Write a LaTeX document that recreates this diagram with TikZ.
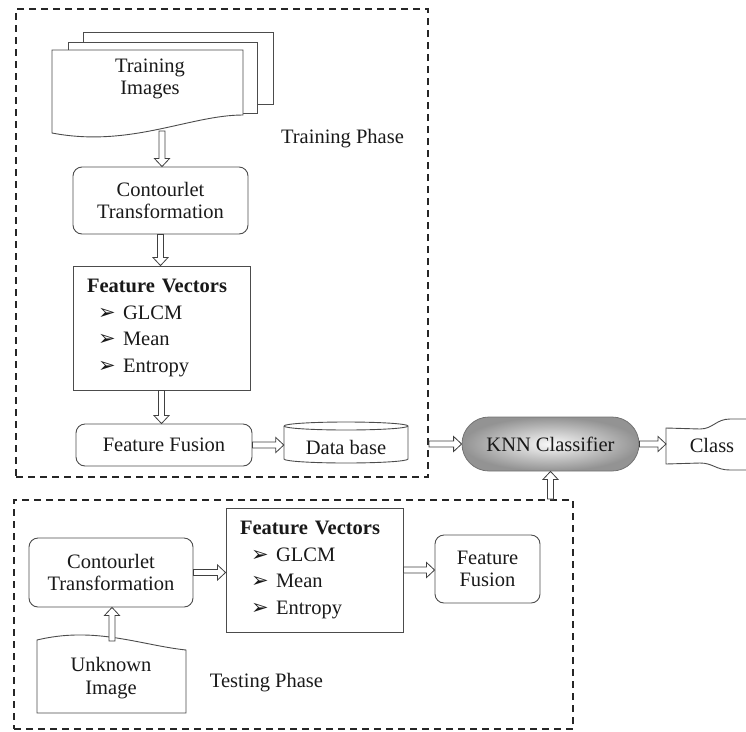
\documentclass[tikz,border=0pt]{standalone}
\usepackage{fontspec}
\setmainfont{Liberation Serif}
\newfontfamily\dejavu{DejaVu Sans}
\usetikzlibrary{calc,shapes.misc}
\newcommand{\fvitem}[1]{\hspace*{11pt}\makebox[25pt][l]{{\dejavu\fontsize{21}{21}\selectfont ➢}}#1}
\begin{document}
\begin{tikzpicture}[x=1pt,y=1pt,
  every node/.style={font=\fontsize{20.5}{22.5}\selectfont, text=black!90},
  box/.style={draw=black!70, line width=0.9pt, inner sep=0pt, align=center},
  rbox/.style={box, rounded corners=9pt},
  fvbox/.style={box, text width=149pt, inner xsep=14pt, inner ysep=0pt, minimum height=124pt, align=left, font=\fontsize{20.5}{26.5}\selectfont},
  phase/.style={draw=black!85, line width=2pt, dash pattern=on 7pt off 5pt, inner sep=0pt, anchor=north west},
  docline/.style={draw=black!70, line width=0.9pt, fill=white},
  plain/.style={align=center, inner sep=0pt},
  knn/.style={rounded rectangle, draw=black!55, line width=0.8pt, inner color=gray!5, outer color=gray!85, minimum width=177pt, minimum height=54pt, inner sep=0pt},
  harrow/.style={draw=black!75, line width=0.8pt, fill=white, line join=miter,
    to path={let \p1=(\tikztostart), \p2=(\tikztotarget),
      \n1={atan2(\y2-\y1,\x2-\x1)}, \n2={veclen(\x2-\x1,\y2-\y1)-8pt} in
      ($(\p1)+(\n1+90:3pt)$) -- ($(\p1)+(\n1:\n2)+(\n1+90:3pt)$) -- ($(\p1)+(\n1:\n2)+(\n1+90:7.5pt)$) -- (\p2) -- ($(\p1)+(\n1:\n2)+(\n1-90:7.5pt)$) -- ($(\p1)+(\n1:\n2)+(\n1-90:3pt)$) -- ($(\p1)+(\n1-90:3pt)$) -- cycle}}
]
\useasboundingbox (0,0) rectangle (746,-731);

% phase frames
\node[phase, minimum width=412pt, minimum height=468pt] (tphase) at (15,-8) {};
\node[phase, minimum width=559pt, minimum height=229pt] (bphase) at (13,-499) {};

% training images (stacked documents)
\draw[docline] (83,-32) rectangle (273,-104);
\draw[docline] (68,-42) rectangle (257,-113);
\draw[docline] (52,-50) -- (243,-50) -- (243,-115) .. controls (190,-115) and (130,-148) .. (52,-133) -- cycle;
\node[plain] (trainimg) at (150,-79) {Training\\Images};
\coordinate (trainbot) at (162,-131);

\node[plain] (trphase) at (342.5,-139) {Training Phase};

\node[rbox, minimum width=175pt, minimum height=67pt] (ct1) at (160.5,-200.5) {Contourlet\\Transformation};
\node[fvbox] (fv1) at (161.5,-328) {\textbf{Feature Vectors}\\\fvitem{GLCM}\\\fvitem{Mean}\\\fvitem{Entropy}};
\node[rbox, minimum width=176pt, minimum height=42pt] (ff1) at (164,-445) {Feature Fusion};

% database cylinder
\draw[draw=black!70, line width=0.9pt] (284,-426) -- (284,-459) arc[start angle=180, end angle=360, x radius=62pt, y radius=4pt] -- (408,-426) arc[start angle=0, end angle=180, x radius=62pt, y radius=4pt];
\draw[draw=black!70, line width=0.9pt] (284,-426) arc[start angle=180, end angle=360, x radius=62pt, y radius=4pt];
\node[plain, minimum width=124pt, minimum height=41pt] (db) at (346,-442.5) {};
\node[plain] (dbtext) at (346,-447) {Data base};

% KNN
\node[knn] (knn) at (550.5,-444) {KNN Classifier};

% class
\draw[draw=black!70, line width=0.9pt] (746,-419) -- (730,-419) .. controls (716,-419) and (713,-429) .. (700,-429) -- (666,-428) -- (666,-464) -- (700,-463) .. controls (713,-463) and (716,-470) .. (730,-470) -- (746,-470);
\node[plain] (class) at (712,-445) {Class};
\coordinate (classin) at (666,-444);

% testing phase
\node[rbox, minimum width=164pt, minimum height=69pt] (ct2) at (111,-572.5) {Contourlet\\Transformation};
\node[fvbox] (fv2) at (314.5,-570) {\textbf{Feature Vectors}\\\fvitem{GLCM}\\\fvitem{Mean}\\\fvitem{Entropy}};
\node[rbox, minimum width=105pt, minimum height=68pt] (ff2) at (487.5,-569) {Feature\\Fusion};
\draw[docline] (37,-713) -- (186,-713) -- (186,-650) .. controls (140,-645) and (95,-626) .. (37,-640) -- cycle;
\node[plain] (unk) at (111,-678) {Unknown\\Image};
\coordinate (unktop) at (112,-641);
\node[plain] (tsphase) at (266.5,-683) {Testing Phase};

% arrows
\draw[harrow] (trainbot) to (trainbot |- ct1.north);
\draw[harrow] (ct1.south) to (ct1.south |- fv1.north);
\draw[harrow] (fv1.south) to (fv1.south |- ff1.north);
\draw[harrow] (ff1.east) to (ff1.east -| db.west);
\draw[harrow] (tphase.east |- knn.west) to (knn.west);
\draw[harrow] (knn.east) to (classin);
\draw[harrow] (knn.south |- bphase.north) to (knn.south);
\draw[harrow] (unktop) to (unktop |- ct2.south);
\draw[harrow] (ct2.east) to (ct2.east -| fv2.west);
\draw[harrow] (fv2.east) to (fv2.east -| ff2.west);
\end{tikzpicture}
\end{document}
